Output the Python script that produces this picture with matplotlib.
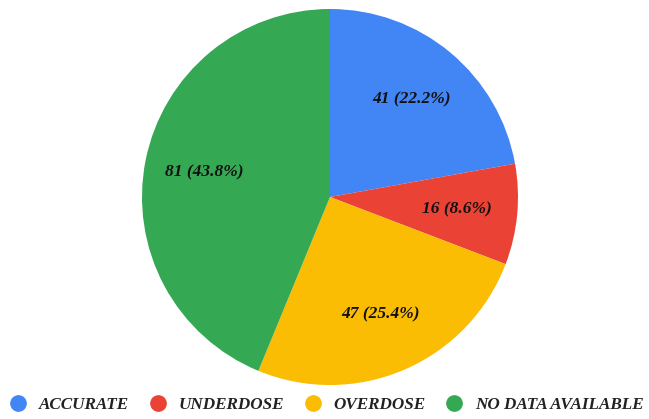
import matplotlib.pyplot as plt
from matplotlib.lines import Line2D

# data
labels = ['ACCURATE', 'UNDERDOSE', 'OVERDOSE', 'NO DATA AVAILABLE']
counts = [41, 16, 47, 81]
colors = ['#4285F4', '#EA4335', '#FBBC04', '#34A853']

fig = plt.figure(figsize=(6.49, 4.19), dpi=100)
# pie centre about (330, 197) px, radius about 188 px
r_px = 188
ax = fig.add_axes([(330 - r_px) / 649, (419 - 197 - r_px) / 419, 2 * r_px / 649, 2 * r_px / 419])

total = sum(counts)


def fmt(pct):
    n = int(round(pct * total / 100.0))
    return '%d (%.1f%%)' % (n, pct)


wedges, texts, autotexts = ax.pie(counts, colors=colors, startangle=90, counterclock=False,
                                  autopct=fmt, pctdistance=0.68, radius=1,
                                  wedgeprops=dict(linewidth=0))
for t in autotexts:
    t.set_fontfamily('Liberation Serif')
    t.set_fontstyle('italic')
    t.set_fontweight('bold')
    t.set_fontsize(12.5)
    t.set_color('#111111')
ax.set_xlim(-1, 1)
ax.set_ylim(-1, 1)

handles = [Line2D([], [], marker='o', linestyle='none', markersize=11,
                  markerfacecolor=c, markeredgecolor=c) for c in colors]
fig.legend(handles, labels, loc='lower center', bbox_to_anchor=(0.503, -0.022), ncol=4,
           frameon=False, prop=dict(family='Liberation Serif', style='italic', weight='bold', size=12.3),
           handletextpad=0.7, columnspacing=1.2, handlelength=1.0, labelcolor='#222222')

fig.savefig('out.png', dpi=100)
